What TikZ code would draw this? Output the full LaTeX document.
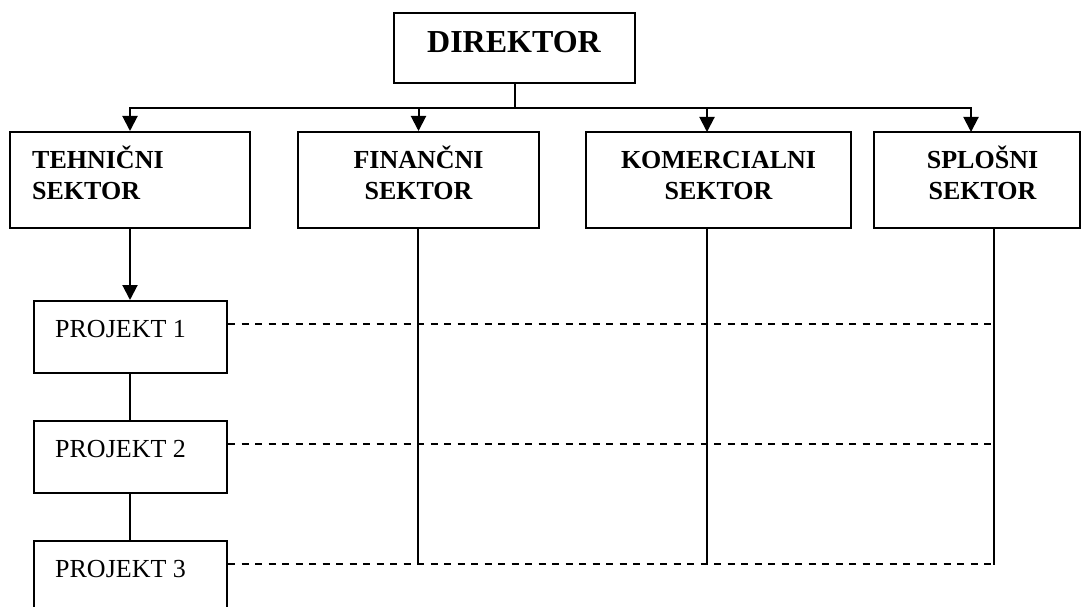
\documentclass[tikz,border=0pt]{standalone}
\usepackage{fontspec}
\setmainfont{Liberation Serif}
\usetikzlibrary{arrows.meta,calc}

\tikzset{
  conn/.style={line width=2pt},
  arr/.style={conn, -{Triangle[length=15pt,width=15pt]}},
  dashline/.style={line width=2pt, dash pattern=on 7pt off 6.5pt},
  box/.style={draw, line width=2pt, rectangle, inner sep=0pt},
  headtxt/.style={anchor=base, inner sep=0pt, font=\fontsize{32}{38}\selectfont\bfseries},
  sectxt/.style={anchor=base, inner sep=0pt, font=\fontsize{26}{31}\selectfont\bfseries},
  projtxt/.style={anchor=base west, inner sep=0pt, font=\fontsize{26}{31}\selectfont},
}

\begin{document}
\begin{tikzpicture}[x=1pt, y=-1pt]
  \clip (0,0) rectangle (1083,607);
  \fill[white] (0,0) rectangle (1083,607);

  % director
  \node[box, minimum width=241pt, minimum height=70pt] (dir) at (514.5,48) {};
  \node[headtxt] (dirT) at (514,53) {DIREKTOR};

  % sectors
  \node[box, minimum width=240pt, minimum height=96pt] (teh) at (130,180) {};
  \node[box, minimum width=241pt, minimum height=96pt] (fin) at (418.5,180) {};
  \node[box, minimum width=265pt, minimum height=96pt] (kom) at (718.5,180) {};
  \node[box, minimum width=206pt, minimum height=96pt] (spl) at (977,180) {};

  \node[sectxt, anchor=base west] (tehA) at (32,168) {TEHNIČNI};
  \node[sectxt, anchor=base west] (tehB) at (32,199) {SEKTOR};
  \node[sectxt] (finA) at (418.5,168) {FINANČNI};
  \node[sectxt] (finB) at (418.5,199) {SEKTOR};
  \node[sectxt] (komA) at (718.5,168) {KOMERCIALNI};
  \node[sectxt] (komB) at (718.5,199) {SEKTOR};
  \node[sectxt] (splA) at (982.5,168) {SPLOŠNI};
  \node[sectxt] (splB) at (982.5,199) {SEKTOR};

  % projects
  \node[box, minimum width=193pt, minimum height=72pt] (p1) at (130.5,337) {};
  \node[box, minimum width=193pt, minimum height=72pt] (p2) at (130.5,457) {};
  \node[box, minimum width=193pt, minimum height=72pt] (p3) at (130.5,577) {};
  \node[projtxt] (p1T) at (55,337) {PROJEKT 1};
  \node[projtxt] (p2T) at (55,457) {PROJEKT 2};
  \node[projtxt] (p3T) at (55,577) {PROJEKT 3};

  % distribution bus under the director
  \coordinate (bus) at (514.5,108);
  \coordinate (komIn) at (707,132);
  \coordinate (splIn) at (971,132);
  \draw[conn] (dir.south) -- (bus);
  \draw[arr] (bus) -| (teh.north);
  \draw[arr] (bus) -| (fin.north);
  \draw[arr] (bus) -| (komIn);
  \draw[arr] (bus) -| (splIn);

  % project chain
  \draw[arr] (teh.south) -- (p1.north -| teh.south);
  \draw[conn] (p1.south -| teh.south) -- (p2.north -| teh.south);
  \draw[conn] (p2.south -| teh.south) -- (p3.north -| teh.south);

  % sector lines down to the last project row
  \coordinate (komOut) at (707,228);
  \coordinate (splOut) at (994,228);
  \coordinate (finEnd) at (418,565);
  \coordinate (komEnd) at (707,565);
  \coordinate (splEnd) at (994,565);
  \draw[conn] (fin.south -| finEnd) -- (finEnd);
  \draw[conn] (komOut) -- (komEnd);
  \draw[conn] (splOut) -- (splEnd);

  % dashed links from each project to the sectors
  \coordinate (d1) at ($(p1.east)+(0,-13)$);
  \coordinate (d2) at ($(p2.east)+(0,-13)$);
  \coordinate (d3) at ($(p3.east)+(0,-13)$);
  \draw[dashline] (d1) -- (d1 -| splEnd);
  \draw[dashline] (d2) -- (d2 -| splEnd);
  \draw[dashline] (d3) -- (d3 -| splEnd);
\end{tikzpicture}
\end{document}
